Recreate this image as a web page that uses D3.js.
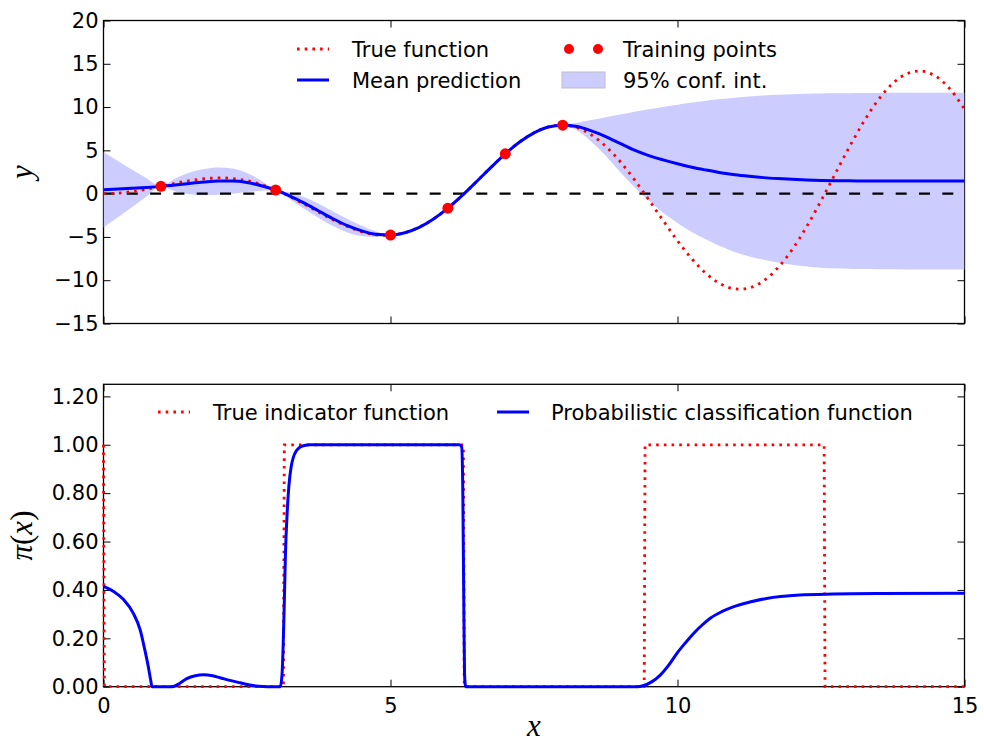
<!DOCTYPE html>
<meta charset="utf-8">
<script src="https://d3js.org/d3.v7.min.js"></script>
<style>
body { margin: 0; background: #fff; }
svg { font-family: "DejaVu Sans", sans-serif; }
.tick text { font-size: 21px; fill: #000; }
.tick line { stroke: #000; stroke-width: 1; }
.frame { fill: none; stroke: #000; stroke-width: 1.3; }
.mathlabel { font-family: "Liberation Serif", serif; font-style: italic; font-size: 31px; fill: #000; }
.legend text { font-size: 21px; fill: #000; }
.trueLine { fill: none; stroke: #ff0000; stroke-width: 2.8; stroke-dasharray: 2.6 5.1; }
.meanLine { fill: none; stroke: #0000ff; stroke-width: 3; }
.band { fill: #ccccff; stroke: none; }
.zeroLine { stroke: #000; stroke-width: 2.3; stroke-dasharray: 11 12.3; }
</style>
<body></body>
<script>

// ---- top panel data ----
const gridX = [0, 0.25, 0.5, 0.75, 1, 1.25, 1.5, 1.75, 2, 2.25, 2.5, 2.75, 3, 3.25, 3.5, 3.75,
  4, 4.25, 4.5, 4.75, 5, 5.25, 5.5, 5.75, 6, 6.25, 6.5, 6.75, 7, 7.25, 7.5, 7.75,
  8, 8.25, 8.5, 8.75, 9, 9.25, 9.5, 9.75, 10, 10.25, 10.5, 10.75, 11, 11.25, 11.5, 11.75,
  12, 12.25, 12.5, 12.75, 13, 13.25, 13.5, 13.75, 14, 14.25, 14.5, 14.75, 15];

const trueY = [0, 0.06, 0.24, 0.51, 0.84, 1.19, 1.50, 1.72, 1.82, 1.75, 1.50, 1.05, 0.42, -0.35, -1.23, -2.14,
  -3.03, -3.80, -4.40, -4.75, -4.79, -4.51, -3.88, -2.92, -1.68, -0.21, 1.40, 3.04, 4.60, 5.97, 7.04, 7.71,
  7.91, 7.61, 6.79, 5.47, 3.71, 1.61, -0.71, -3.11, -5.44, -7.53, -9.24, -10.43, -11.00, -10.89, -10.07, -8.56,
  -6.44, -3.81, -0.83, 2.33, 5.46, 8.37, 10.85, 12.73, 13.87, 14.16, 13.56, 12.07, 9.75];

const meanY = [0.45, 0.53, 0.62, 0.72, 0.84, 1.00, 1.18, 1.34, 1.45, 1.45, 1.28, 0.92, 0.42, -0.28, -1.10, -2.00,
  -2.90, -3.70, -4.30, -4.70, -4.79, -4.52, -3.90, -2.93, -1.68, -0.20, 1.40, 3.04, 4.60, 5.96, 7.02, 7.70,
  7.91, 7.75, 7.25, 6.60, 5.80, 5.02, 4.40, 3.90, 3.45, 3.05, 2.72, 2.42, 2.18, 2.00, 1.85, 1.74,
  1.65, 1.58, 1.53, 1.50, 1.48, 1.47, 1.46, 1.46, 1.45, 1.45, 1.45, 1.45, 1.45];

const upperY = [4.80, 3.78, 2.77, 1.77, 0.84, 1.75, 2.43, 2.86, 3.03, 2.90, 2.38, 1.50, 0.42, 0.12, -0.42, -1.18,
  -2.05, -2.92, -3.70, -4.38, -4.79, -4.46, -3.82, -2.88, -1.68, -0.15, 1.46, 3.09, 4.60, 6.01, 7.08, 7.75,
  7.91, 8.20, 8.50, 8.82, 9.13, 9.45, 9.75, 10.02, 10.28, 10.52, 10.74, 10.93, 11.09, 11.22, 11.33, 11.42,
  11.48, 11.53, 11.56, 11.59, 11.61, 11.62, 11.63, 11.64, 11.64, 11.65, 11.65, 11.65, 11.65];

const lowerY = [-3.90, -2.72, -1.53, -0.33, 0.84, 0.25, -0.07, -0.18, -0.13, 0.00, 0.18, 0.34, 0.42, -0.68, -1.78, -2.82,
  -3.75, -4.48, -4.90, -5.02, -4.79, -4.58, -3.98, -2.98, -1.68, -0.25, 1.34, 2.99, 4.60, 5.91, 6.96, 7.65,
  7.91, 7.30, 6.00, 4.38, 2.50, 0.75, -0.80, -2.22, -3.38, -4.42, -5.30, -6.09, -6.73, -7.25, -7.65, -7.96,
  -8.22, -8.42, -8.55, -8.63, -8.68, -8.71, -8.73, -8.74, -8.75, -8.75, -8.75, -8.75, -8.75];

const trainX = [1, 3, 5, 6, 7, 8];
const trainY = [0.84, 0.42, -4.79, -1.68, 4.60, 7.91];

// ---- bottom panel data ----
const indX = [0, 0.015, 3.135, 3.15, 6.27, 6.285, 9.42, 9.435, 12.555, 12.57, 15];
const indY = [1, 0, 0, 1, 1, 0, 0, 1, 1, 0, 0];

const probX = [0, 0.17, 0.35, 0.52, 0.64, 0.72, 0.78, 0.82, 0.845, 0.9, 1.2, 1.3, 1.45, 1.6, 1.74, 1.9,
  2.03, 2.2, 2.38, 2.55, 2.7, 2.85, 3.08, 3.11, 3.13, 3.15, 3.17, 3.20, 3.23, 3.27, 3.31, 3.36,
  3.42, 3.5, 3.6, 3.8, 6.2, 6.24, 6.26, 6.275, 6.29, 6.31, 9.3, 9.4, 9.55, 9.7, 9.85, 9.99,
  10.14, 10.28, 10.43, 10.57, 10.77, 10.97, 11.26, 11.55, 12.13, 12.71, 13.5, 15];
const probY = [0.415, 0.395, 0.36, 0.303, 0.234, 0.152, 0.083, 0.03, 0, 0, 0, 0.01, 0.033, 0.045, 0.049, 0.045,
  0.037, 0.026, 0.016, 0.007, 0.002, 0, 0, 0.05, 0.17, 0.35, 0.55, 0.72, 0.83, 0.91, 0.95, 0.975,
  0.99, 0.997, 1, 1, 1, 0.99, 0.8, 0.4, 0.05, 0, 0, 0.004, 0.02, 0.048, 0.09, 0.138,
  0.182, 0.22, 0.255, 0.283, 0.31, 0.33, 0.35, 0.365, 0.379, 0.383, 0.385, 0.386];

const xTicks = [0, 5, 10, 15];
const yTopTicks = [-15, -10, -5, 0, 5, 10, 15, 20];
const yBotTicks = [0, 0.2, 0.4, 0.6, 0.8, 1.0, 1.2];

const width = 984, height = 742;
const left = 103.5, right = 964.5;
const top1 = 20.5, bot1 = 323.5;
const top2 = 384.3, bot2 = 686.7;
const tick = 7;

const svg = d3.select("body").append("svg")
  .attr("width", width)
  .attr("height", height);

const x = d3.scaleLinear().domain([0, 15]).range([left, right]);
const yTop = d3.scaleLinear().domain([-15, 20]).range([bot1, top1]);
const yBot = d3.scaleLinear().domain([0, 1.25]).range([bot2, top2]);

// clip paths
const defs = svg.append("defs");
defs.append("clipPath").attr("id", "clipTop").append("rect")
  .attr("x", left).attr("y", top1).attr("width", right - left).attr("height", bot1 - top1);
defs.append("clipPath").attr("id", "clipBot").append("rect")
  .attr("x", left - 3).attr("y", top2 - 3).attr("width", right - left + 6).attr("height", bot2 - top2 + 6);

function drawAxes(y, yTicks, yFmt, t, b, xLabels) {
  svg.append("g").attr("transform", "translate(" + left + ",0)")
    .call(d3.axisLeft(y).tickValues(yTicks).tickFormat(yFmt).tickSize(-tick).tickSizeOuter(0).tickPadding(5))
    .call(g => g.select(".domain").remove());
  svg.append("g").attr("transform", "translate(" + right + ",0)")
    .call(d3.axisRight(y).tickValues(yTicks).tickFormat("").tickSize(-tick).tickSizeOuter(0))
    .call(g => g.select(".domain").remove());
  svg.append("g").attr("transform", "translate(0," + b + ")")
    .call(d3.axisBottom(x).tickValues(xTicks).tickFormat(xLabels ? d3.format("d") : "").tickSize(-tick).tickSizeOuter(0).tickPadding(11))
    .call(g => g.select(".domain").remove());
  svg.append("g").attr("transform", "translate(0," + t + ")")
    .call(d3.axisTop(x).tickValues(xTicks).tickFormat("").tickSize(-tick).tickSizeOuter(0))
    .call(g => g.select(".domain").remove());
  svg.selectAll(".tick text").attr("font-family", "DejaVu Sans").attr("font-size", 21);
  svg.append("rect").attr("class", "frame")
    .attr("x", left).attr("y", t).attr("width", right - left).attr("height", b - t);
}

drawAxes(yTop, yTopTicks, d3.format("d"), top1, bot1, false);
drawAxes(yBot, yBotTicks, d3.format(".2f"), top2, bot2, true);

// ---- top panel ----
const topData = gridX.map((d, i) => ({x: d, t: trueY[i], m: meanY[i], u: upperY[i], l: lowerY[i]}));
const gTop = svg.append("g").attr("clip-path", "url(#clipTop)");

gTop.append("path").attr("class", "band")
  .attr("d", d3.area().curve(d3.curveMonotoneX)
    .x(d => x(d.x)).y0(d => yTop(d.l)).y1(d => yTop(d.u))(topData));

gTop.append("line").attr("class", "zeroLine")
  .attr("x1", x(0)).attr("x2", x(15)).attr("y1", yTop(0)).attr("y2", yTop(0));

gTop.append("path").attr("class", "trueLine")
  .attr("d", d3.line().curve(d3.curveCatmullRom).x(d => x(d.x)).y(d => yTop(d.t))(topData));

gTop.append("path").attr("class", "meanLine")
  .attr("d", d3.line().curve(d3.curveMonotoneX).x(d => x(d.x)).y(d => yTop(d.m))(topData));

gTop.selectAll(".train").data(trainX).enter().append("circle")
  .attr("cx", d => x(d)).attr("cy", (d, i) => yTop(trainY[i]))
  .attr("r", 5.5).attr("fill", "#ff0000");

// ---- bottom panel ----
const gBot = svg.append("g").attr("clip-path", "url(#clipBot)");
gBot.append("path").attr("class", "trueLine")
  .attr("d", d3.line().x((d, i) => x(indX[i])).y(d => yBot(d))(indY));
gBot.append("path").attr("class", "meanLine")
  .attr("d", d3.line().curve(d3.curveMonotoneX).x((d, i) => x(probX[i])).y(d => yBot(d))(probY));

// ---- legends ----
const leg1 = svg.append("g").attr("class", "legend");
leg1.append("line").attr("class", "trueLine").attr("x1", 297).attr("x2", 329).attr("y1", 49).attr("y2", 49);
leg1.append("text").attr("x", 352).attr("y", 56.5).text("True function");
leg1.append("line").attr("class", "meanLine").attr("x1", 297).attr("x2", 329).attr("y1", 80).attr("y2", 80);
leg1.append("text").attr("x", 352).attr("y", 88).text("Mean prediction");
leg1.selectAll(".ldot").data([569, 598]).enter().append("circle")
  .attr("cx", d => d).attr("cy", 49).attr("r", 5).attr("fill", "#ff0000");
leg1.append("text").attr("x", 623).attr("y", 56.5).text("Training points");
leg1.append("rect").attr("x", 562).attr("y", 72).attr("width", 43).attr("height", 16)
  .attr("fill", "#ccccff").attr("stroke", "#bdbdcc").attr("stroke-width", 1);
leg1.append("text").attr("x", 623).attr("y", 88).text("95% conf. int.");

const leg2 = svg.append("g").attr("class", "legend");
leg2.append("line").attr("class", "trueLine").attr("x1", 158).attr("x2", 190).attr("y1", 412).attr("y2", 412);
leg2.append("text").attr("x", 213).attr("y", 419.5).text("True indicator function");
leg2.append("line").attr("class", "meanLine").attr("x1", 497).attr("x2", 529).attr("y1", 412).attr("y2", 412);
leg2.append("text").attr("x", 551).attr("y", 419.5).text("Probabilistic classification function");

// ---- axis labels ----
svg.append("text").attr("class", "mathlabel")
  .attr("transform", "translate(32," + ((top1 + bot1) / 2) + ") rotate(-90)")
  .attr("text-anchor", "middle").text("y");

const piLabel = svg.append("text").attr("class", "mathlabel")
  .attr("transform", "translate(32," + ((top2 + bot2) / 2) + ") rotate(-90)")
  .attr("text-anchor", "middle");
piLabel.append("tspan").text("π");
piLabel.append("tspan").style("font-style", "normal").text("(");
piLabel.append("tspan").text("x");
piLabel.append("tspan").style("font-style", "normal").text(")");

svg.append("text").attr("class", "mathlabel")
  .attr("x", (left + right) / 2).attr("y", 736)
  .attr("text-anchor", "middle").text("x");

</script>
